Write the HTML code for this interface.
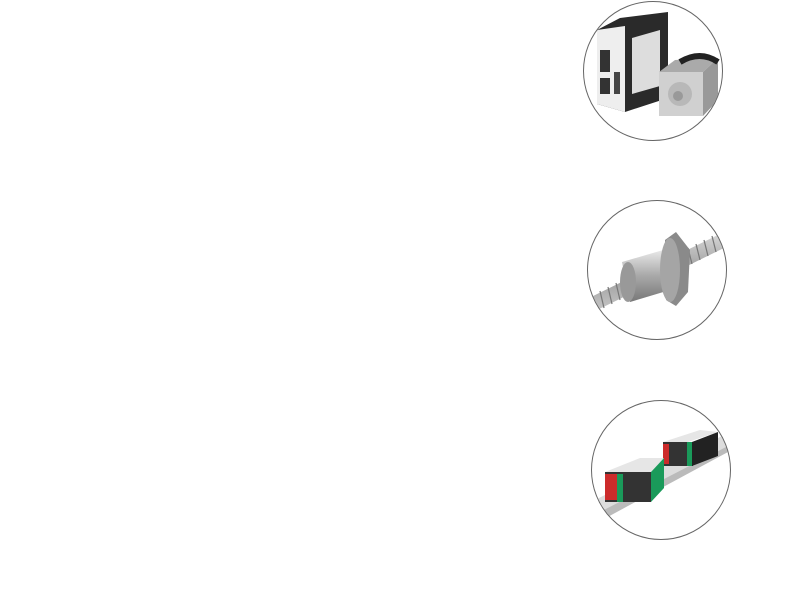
<!DOCTYPE html>
<html><head><style>
html,body{margin:0;padding:0;background:#fff;width:800px;height:595px;overflow:hidden}
svg{position:absolute;left:0;top:0}
</style></head><body>
<svg width="800" height="595" viewBox="0 0 800 595">
<defs>
<clipPath id="c1"><circle cx="653" cy="71" r="69"/></clipPath>
<clipPath id="c2"><circle cx="657" cy="270" r="69"/></clipPath>
<clipPath id="c3"><circle cx="661" cy="470" r="69"/></clipPath>
<linearGradient id="scr" x1="0" y1="0" x2="0" y2="1"><stop offset="0" stop-color="#ddd"/><stop offset=".5" stop-color="#999"/><stop offset="1" stop-color="#ccc"/></linearGradient>
<linearGradient id="nut" x1="0" y1="0" x2="0" y2="1"><stop offset="0" stop-color="#eee"/><stop offset=".5" stop-color="#aaa"/><stop offset="1" stop-color="#777"/></linearGradient>
</defs>
<g clip-path="url(#c1)">
<polygon points="597,30 620,18 668,12 668,98 625,112 597,104" fill="#2a2a2a"/>
<polygon points="597,30 625,26 625,112 597,104" fill="#eee"/>
<rect x="600" y="50" width="10" height="22" fill="#333"/>
<rect x="600" y="78" width="10" height="16" fill="#333"/>
<rect x="614" y="72" width="6" height="22" fill="#444"/>
<polygon points="632,38 660,30 660,86 632,94" fill="#ddd"/>
<rect x="659" y="72" width="44" height="44" fill="#d0d0d0"/>
<polygon points="659,72 675,60 718,58 703,72" fill="#aaa"/>
<polygon points="703,72 718,58 718,100 703,116" fill="#999"/>
<path d="M680,62 q20,-12 38,0" stroke="#222" stroke-width="6" fill="none"/>
<circle cx="680" cy="94" r="12" fill="#b8b8b8"/>
<circle cx="678" cy="96" r="5" fill="#999"/>
</g>
<circle cx="653" cy="71" r="69.5" fill="none" stroke="#666" stroke-width="1"/>
<g clip-path="url(#c2)">
<polygon points="585,300 728,230 728,246 585,316" fill="url(#scr)"/>
<g stroke="#777" stroke-width="1.2">
<line x1="592" y1="295" x2="596" y2="312"/><line x1="600" y1="291" x2="604" y2="308"/><line x1="608" y1="287" x2="612" y2="304"/><line x1="616" y1="283" x2="620" y2="300"/>
<line x1="688" y1="248" x2="692" y2="264"/><line x1="696" y1="244" x2="700" y2="260"/><line x1="704" y1="240" x2="708" y2="256"/><line x1="712" y1="236" x2="716" y2="252"/><line x1="720" y1="232" x2="724" y2="248"/>
</g>
<polygon points="622,262 670,248 670,290 630,302" fill="url(#nut)"/>
<ellipse cx="628" cy="282" rx="8" ry="20" fill="#999"/>
<polygon points="665,240 676,232 690,250 688,292 676,306 666,300" fill="#8a8a8a"/>
<ellipse cx="670" cy="270" rx="10" ry="32" fill="#a5a5a5"/>
</g>
<circle cx="657" cy="270" r="69.5" fill="none" stroke="#666" stroke-width="1"/>
<g clip-path="url(#c3)">
<polygon points="595,500 722,436 728,448 600,516" fill="#ddd"/>
<polygon points="600,512 728,446 728,452 602,520" fill="#bbb"/>
<polygon points="663,442 700,430 718,432 688,442" fill="#e6e6e6"/>
<rect x="663" y="442" width="30" height="24" fill="#333"/>
<rect x="663" y="444" width="6" height="20" fill="#cc2b2b"/>
<rect x="687" y="442" width="5" height="24" fill="#1a9a5a"/>
<polygon points="692,442 718,432 718,456 692,466" fill="#222"/>
<polygon points="605,472 640,458 664,458 651,472" fill="#e6e6e6"/>
<rect x="605" y="472" width="46" height="30" fill="#333"/>
<rect x="605" y="474" width="12" height="26" fill="#cc2b2b"/>
<rect x="617" y="474" width="6" height="28" fill="#1a9a5a"/>
<polygon points="651,472 664,458 664,488 651,502" fill="#1a9a5a"/>
</g>
<circle cx="661" cy="470" r="69.5" fill="none" stroke="#666" stroke-width="1"/>
</svg>
</body></html>
